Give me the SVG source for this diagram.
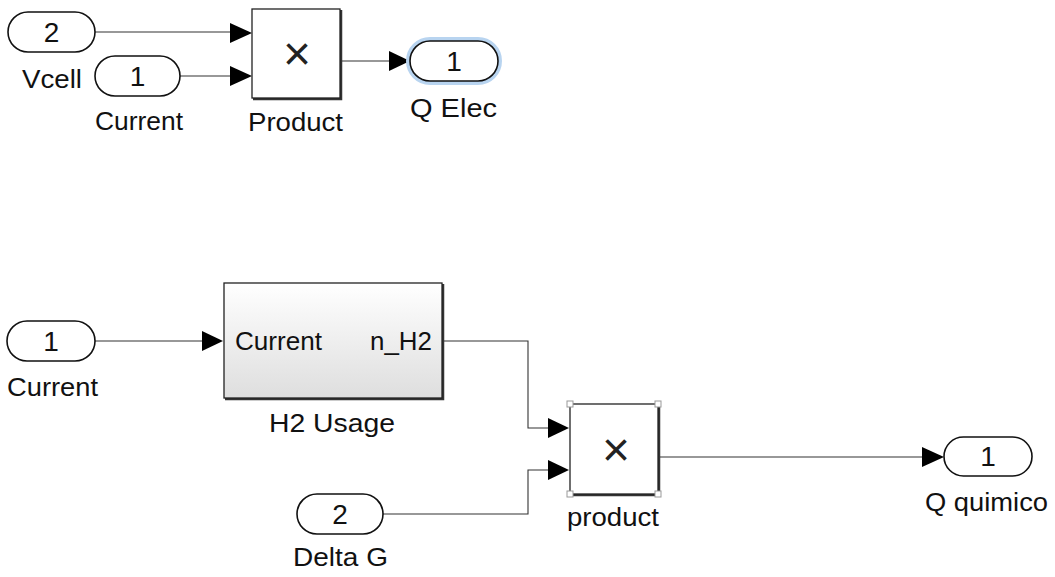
<svg xmlns="http://www.w3.org/2000/svg" width="1055" height="577" viewBox="0 0 1055 577">
<style>
text{font-family:"Liberation Sans",Arial,sans-serif;font-size:26px;fill:#111}
.mid{text-anchor:middle}
.num{font-size:28px;text-anchor:middle}
.x{font-size:48px;text-anchor:middle;fill:#222}
.port{fill:#fff;stroke:#111;stroke-width:1.6}
.blk{fill:#fff;stroke:#222;stroke-width:1.3}
.shadow{fill:none;stroke:#333;stroke-width:2.5}
.wire{fill:none;stroke:#333;stroke-width:1.1}
.arr{fill:#000}
.hdl{fill:#fff;stroke:#999;stroke-width:1}
</style>
<defs>
<linearGradient id="g" x1="0" y1="0" x2="0" y2="1">
<stop offset="0" stop-color="#ffffff"/>
<stop offset="1" stop-color="#dedede"/>
</linearGradient>
</defs>
<rect width="1055" height="577" fill="#fff"/>
<g id="connectors">
<path class="wire" d="M95 32 H231"/>
<path class="arr" d="M230 23 L252 33 L230 43 Z"/>
<path class="wire" d="M180 76 H231"/>
<path class="arr" d="M230 66 L252 76 L230 86 Z"/>
<path class="wire" d="M340 61 H390"/>
<path class="arr" d="M389 51 L410 61 L389 71 Z"/>
<path class="wire" d="M95 341 H202"/>
<path class="arr" d="M202 331 L223 341 L202 351 Z"/>
<path class="wire" d="M442 341 H528 V428 H548"/>
<path class="arr" d="M548 418 L569 428 L548 438 Z"/>
<path class="wire" d="M383 514 H528 V470 H548"/>
<path class="arr" d="M548 460 L569 470 L548 480 Z"/>
<path class="wire" d="M658 457 H922"/>
<path class="arr" d="M922 447 L944 457 L922 467 Z"/>
</g>
<g id="in_vcell">
<rect class="port" x="8" y="12" width="87" height="40" rx="20"/>
<text class="num" x="51.5" y="42">2</text>
<text x="22" y="88" textLength="60" lengthAdjust="spacingAndGlyphs">Vcell</text>
</g>
<g id="in_current_top">
<rect class="port" x="95" y="56" width="85" height="40" rx="20"/>
<text class="num" x="137.5" y="86">1</text>
<text x="95" y="130" textLength="88" lengthAdjust="spacingAndGlyphs">Current</text>
</g>
<g id="product_top">
<path class="shadow" d="M341 10 V99 H253"/>
<rect class="blk" x="252" y="9" width="88" height="89"/>
<text class="x" x="297" y="70">×</text>
<text x="248" y="131" textLength="95" lengthAdjust="spacingAndGlyphs">Product</text>
</g>
<g id="out_qelec">
<rect x="408" y="39" width="92" height="44" rx="22" fill="none" stroke="#b8d4f0" stroke-width="4"/>
<rect class="port" x="410" y="41" width="88" height="40" rx="20"/>
<text class="num" x="454" y="71">1</text>
<text x="410" y="117" textLength="87" lengthAdjust="spacingAndGlyphs">Q Elec</text>
</g>
<g id="in_current_bot">
<rect class="port" x="7" y="321" width="88" height="40" rx="20"/>
<text class="num" x="51" y="351">1</text>
<text x="7" y="396" textLength="91" lengthAdjust="spacingAndGlyphs">Current</text>
</g>
<g id="h2usage">
<path class="shadow" d="M443 284 V399 H225"/>
<rect x="224" y="283" width="218" height="115" fill="url(#g)" stroke="#222" stroke-width="1.3"/>
<text x="235" y="350" textLength="87" lengthAdjust="spacingAndGlyphs">Current</text>
<text x="370" y="350" textLength="62" lengthAdjust="spacingAndGlyphs">n_H2</text>
<text x="269" y="432" textLength="126" lengthAdjust="spacingAndGlyphs">H2 Usage</text>
</g>
<g id="in_deltag">
<rect class="port" x="297" y="494" width="86" height="40" rx="20"/>
<text class="num" x="340" y="524">2</text>
<text x="293" y="566" textLength="95" lengthAdjust="spacingAndGlyphs">Delta G</text>
</g>
<g id="product_bot">
<path class="shadow" d="M659 405 V495 H571"/>
<rect class="blk" x="570" y="404" width="88" height="90"/>
<rect class="hdl" x="567" y="401" width="6" height="6"/>
<rect class="hdl" x="655" y="401" width="6" height="6"/>
<rect class="hdl" x="567" y="491" width="6" height="6"/>
<rect class="hdl" x="655" y="491" width="6" height="6"/>
<text class="x" x="616" y="466">×</text>
<text x="567" y="526" textLength="92" lengthAdjust="spacingAndGlyphs">product</text>
</g>
<g id="out_qquimico">
<rect class="port" x="944" y="437" width="88" height="39" rx="19.5"/>
<text class="num" x="988" y="466">1</text>
<text x="925" y="511" textLength="123" lengthAdjust="spacingAndGlyphs">Q quimico</text>
</g>
</svg>
